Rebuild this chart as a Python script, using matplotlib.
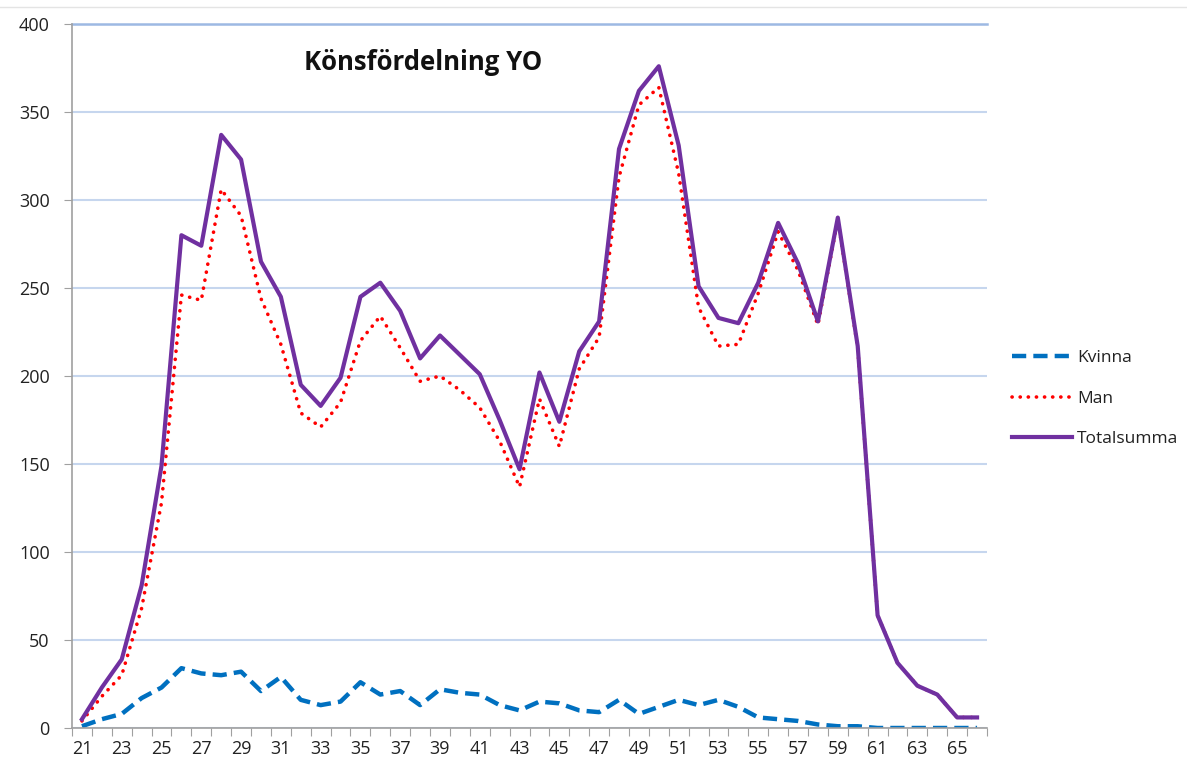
import matplotlib
matplotlib.use("Agg")
import matplotlib.pyplot as plt
import numpy as np

# age categories 21..66
ages = list(range(21, 67))

kvinna = [1, 5, 8, 17, 23, 34, 31, 30, 32, 21, 29, 16, 13, 15, 26, 19, 21, 13, 22, 20,
          19, 13, 10, 15, 14, 10, 9, 16, 8, 12, 16, 13, 16, 12, 6, 5, 4, 2, 1, 1,
          0, 0, 0, 0, 0, 0]
man = [4, 18, 30, 68, 128, 246, 243, 306, 291, 244, 218, 179, 171, 185, 220, 234, 216, 197, 200, 192,
       182, 163, 137, 187, 160, 204, 222, 313, 354, 364, 315, 239, 217, 218, 247, 282, 260, 229, 289, 216,
       64, 37, 24, 19, 6, 6]
totalsumma = [5, 23, 39, 81, 149, 280, 274, 337, 323, 265, 245, 195, 183, 199, 245, 253, 237, 210, 223, 212,
              201, 175, 147, 202, 174, 214, 231, 329, 362, 376, 331, 251, 233, 230, 253, 287, 264, 231, 290, 217,
              64, 37, 24, 19, 6, 6]

TITLE = "Könsfördelning YO"
FONT = ["Open Sans", "DejaVu Sans"]

plt.rcParams["font.family"] = FONT

W, H = 1187, 765
fig = plt.figure(figsize=(W / 100, H / 100), dpi=100)
ax = fig.add_axes([72 / W, 37 / H, 915 / W, 704 / H])

ax.plot(ages, kvinna, color="#0070C0", lw=3.2, linestyle=(0, (3.2, 1.6)), label="Kvinna",
        solid_capstyle="butt", dash_capstyle="butt")
ax.plot(ages, man, color="#FF0000", lw=2.6, linestyle=(0, (0.05, 2.2)), label="Man",
        dash_capstyle="round")
ax.plot(ages, totalsumma, color="#7030A0", lw=3, label="Totalsumma")

ax.set_xlim(20.5, 66.5)
ax.set_ylim(0, 400)
ax.set_yticks(np.arange(0, 401, 50))
ax.yaxis.grid(True, color="#C6D6EE", lw=1.5)
ax.set_axisbelow(True)

# category boundaries get tick marks, every other category gets a label
ax.set_xticks(np.arange(20.5, 67, 1))
ax.set_xticklabels([])
ax.set_xticks(ages[::2], minor=True)
ax.set_xticklabels([str(a) for a in ages[::2]], minor=True)
ax.tick_params(axis="x", which="major", length=6, color="#A0A0A0", direction="out")
ax.tick_params(axis="x", which="minor", length=0, labelsize=13, pad=9, labelcolor="#222222")
ax.tick_params(axis="y", length=6, color="#A0A0A0", labelsize=13, pad=10, labelcolor="#222222")

for side in ("top", "right"):
    ax.spines[side].set_visible(False)
for side in ("left", "bottom"):
    ax.spines[side].set_color("#A0A0A0")
    ax.spines[side].set_linewidth(1.2)

# top gridline drawn a bit stronger, as in the source chart
ax.axhline(400, color="#9DB9E3", lw=1.8, clip_on=False)

ax.text(0.384, 0.946, TITLE, transform=ax.transAxes, ha="center", va="center",
        fontsize=18.5, fontweight="bold", color="#111111")

leg = fig.legend(loc="upper left", bbox_to_anchor=(1012 / W, 1 - 350 / H), frameon=False,
                 fontsize=12.5, handlelength=3.45, handletextpad=0.3, labelspacing=1.4,
                 borderpad=0, borderaxespad=0)
for t in leg.get_texts():
    t.set_color("#222222")

# thin border line at the very top of the chart area
fig.add_artist(plt.Line2D([0, 1], [1 - 7 / H, 1 - 7 / H], color="#E4E4E4", lw=1))

fig.savefig("out.png", dpi=100)
